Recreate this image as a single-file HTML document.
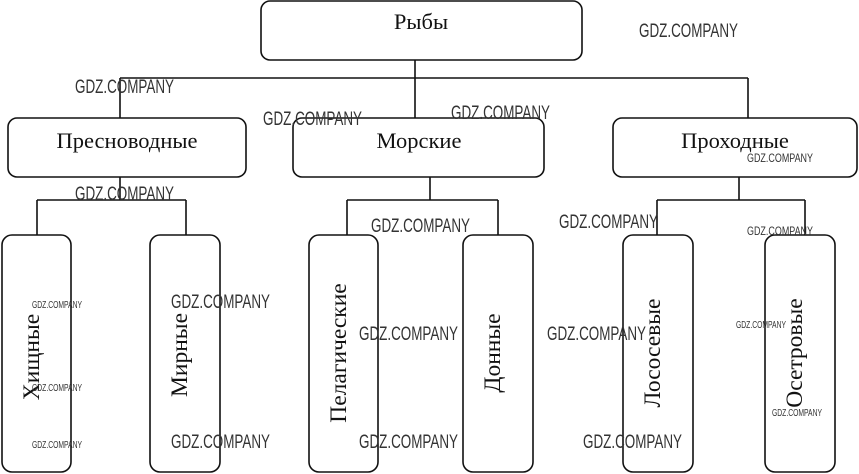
<!DOCTYPE html>
<html><head><meta charset="utf-8"><style>
html,body{margin:0;padding:0;background:#fff;width:859px;height:474px;overflow:hidden}
svg{display:block}
.t{font-family:"Liberation Serif",serif;font-size:22.5px;fill:#111}
.v{font-family:"Liberation Serif",serif;font-size:23.5px;fill:#111}
.w{font-family:"Liberation Sans Narrow","Liberation Sans",sans-serif;fill:#333}
</style></head><body>
<svg width="859" height="474" viewBox="0 0 859 474" xmlns="http://www.w3.org/2000/svg">
<g fill="none" stroke="#111" stroke-width="1.6">
<rect x="261" y="1" width="321" height="59" rx="9"/>
<rect x="8" y="118" width="238" height="59" rx="9"/>
<rect x="293" y="118" width="251" height="59" rx="9"/>
<rect x="613" y="118" width="244" height="59" rx="9"/>
<rect x="2" y="235" width="69" height="237" rx="10"/>
<rect x="150" y="235" width="70" height="237" rx="10"/>
<rect x="309" y="235" width="69" height="237" rx="10"/>
<rect x="463" y="235" width="70" height="237" rx="10"/>
<rect x="623" y="235" width="70" height="237" rx="10"/>
<rect x="765" y="235" width="70" height="237" rx="10"/>
<path d="M415 60V118M120 78H748M120 78V118M748 78V118"/>
<path d="M120 177V200M37 200H186M37 200V235M186 200V235"/>
<path d="M430 177V200M347 200H498M347 200V235M498 200V235"/>
<path d="M739 177V200M657 200H805M657 200V235M805 200V235"/>
</g>
<text class="t" x="421" y="29" text-anchor="middle">Рыбы</text>
<text class="t" x="127" y="148" text-anchor="middle">Пресноводные</text>
<text class="t" x="419" y="148" text-anchor="middle">Морские</text>
<text class="t" x="735" y="148" text-anchor="middle">Проходные</text>
<g class="v">
<text transform="translate(39 357) rotate(-90)" text-anchor="middle">Хищные</text>
<text transform="translate(187 355) rotate(-90)" text-anchor="middle">Мирные</text>
<text transform="translate(346 353) rotate(-90)" text-anchor="middle">Пелагические</text>
<text transform="translate(500 353) rotate(-90)" text-anchor="middle">Донные</text>
<text transform="translate(660 353) rotate(-90)" text-anchor="middle">Лососевые</text>
<text transform="translate(802 353) rotate(-90)" text-anchor="middle">Осетровые</text>
</g>
<g class="w" font-size="19">
<text x="639" y="37" textLength="99" lengthAdjust="spacingAndGlyphs">GDZ.COMPANY</text>
<text x="75" y="93" textLength="99" lengthAdjust="spacingAndGlyphs">GDZ.COMPANY</text>
<text x="263" y="125" textLength="99" lengthAdjust="spacingAndGlyphs">GDZ.COMPANY</text>
<text x="451" y="119" textLength="99" lengthAdjust="spacingAndGlyphs">GDZ.COMPANY</text>
<text x="75" y="200" textLength="99" lengthAdjust="spacingAndGlyphs">GDZ.COMPANY</text>
<text x="371" y="232" textLength="99" lengthAdjust="spacingAndGlyphs">GDZ.COMPANY</text>
<text x="559" y="228" textLength="99" lengthAdjust="spacingAndGlyphs">GDZ.COMPANY</text>
<text x="171" y="308" textLength="99" lengthAdjust="spacingAndGlyphs">GDZ.COMPANY</text>
<text x="359" y="340" textLength="99" lengthAdjust="spacingAndGlyphs">GDZ.COMPANY</text>
<text x="547" y="340" textLength="99" lengthAdjust="spacingAndGlyphs">GDZ.COMPANY</text>
<text x="171" y="448" textLength="99" lengthAdjust="spacingAndGlyphs">GDZ.COMPANY</text>
<text x="359" y="448" textLength="99" lengthAdjust="spacingAndGlyphs">GDZ.COMPANY</text>
<text x="583" y="448" textLength="99" lengthAdjust="spacingAndGlyphs">GDZ.COMPANY</text>
</g>
<g class="w" font-size="12">
<text x="747" y="162" textLength="66" lengthAdjust="spacingAndGlyphs">GDZ.COMPANY</text>
<text x="747" y="235" textLength="66" lengthAdjust="spacingAndGlyphs">GDZ.COMPANY</text>
</g>
<g class="w" font-size="10">
<text x="32" y="308" textLength="50" lengthAdjust="spacingAndGlyphs">GDZ.COMPANY</text>
<text x="32" y="391" textLength="50" lengthAdjust="spacingAndGlyphs">GDZ.COMPANY</text>
<text x="32" y="448" textLength="50" lengthAdjust="spacingAndGlyphs">GDZ.COMPANY</text>
<text x="736" y="328" textLength="50" lengthAdjust="spacingAndGlyphs">GDZ.COMPANY</text>
<text x="772" y="416" textLength="50" lengthAdjust="spacingAndGlyphs">GDZ.COMPANY</text>
</g>
</svg>
</body></html>
